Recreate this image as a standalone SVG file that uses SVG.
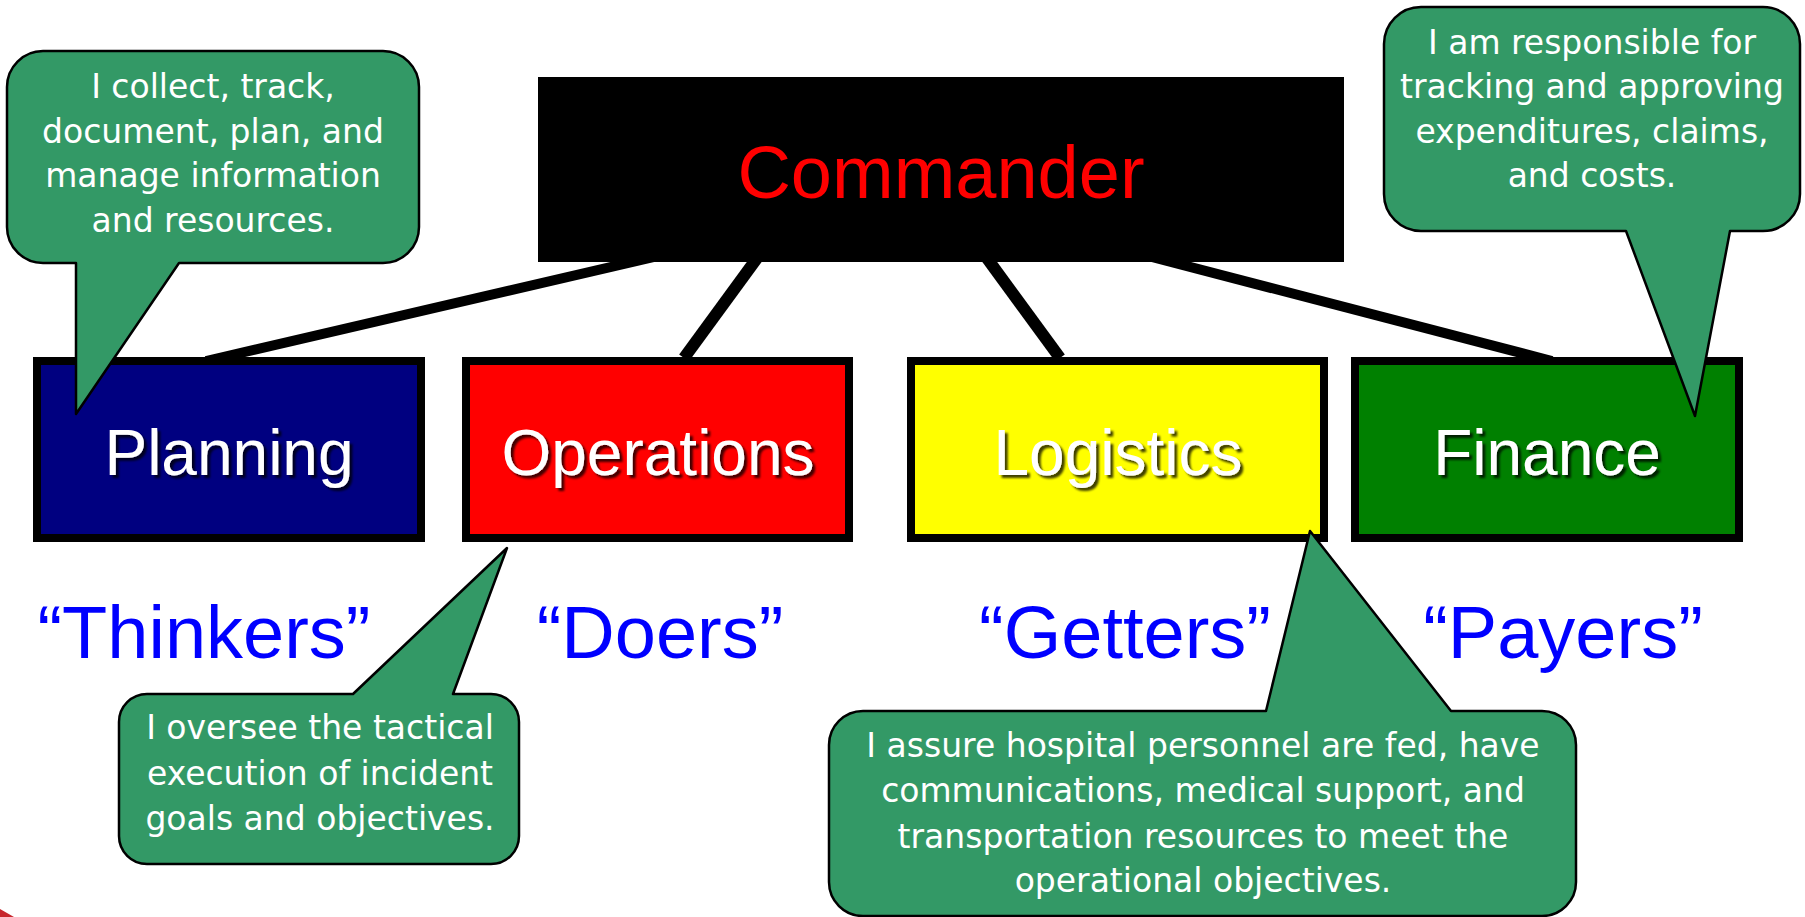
<svg xmlns="http://www.w3.org/2000/svg" width="1805" height="917" viewBox="0 0 1805 917">
  <defs>
    <filter id="shadow" x="-10%" y="-20%" width="130%" height="150%">
      <feDropShadow dx="3" dy="3" stdDeviation="1.2" flood-color="#000000" flood-opacity="0.75"/>
    </filter>
  </defs>
  <style>
    .box { stroke: #000000; stroke-width: 8; }
    .boxlabel { font-family: "Liberation Sans", Arial, sans-serif; font-size: 64px; fill: #FFFFFF; text-anchor: middle; filter: url(#shadow); }
    .quote { font-family: "Liberation Sans", Arial, sans-serif; font-size: 74px; fill: #0000FF; text-anchor: middle; }
    .callout { fill: #339966; stroke: #000000; stroke-width: 2.5; stroke-linejoin: round; }
    .ctext { font-family: "DejaVu Sans", Verdana, sans-serif; font-size: 33px; fill: #FFFFFF; text-anchor: middle; }
    .conn { stroke: #000000; fill: none; stroke-linecap: butt; }
  </style>
  <rect x="0" y="0" width="1805" height="917" fill="#FFFFFF"/>
  <path d="M0,909 L14,917 L0,917 Z" fill="#C8262C"/>

  <g id="connectors">
    <line class="conn" x1="680" y1="251" x2="206" y2="361" stroke-width="10"/>
    <line class="conn" x1="763" y1="250" x2="684" y2="358" stroke-width="12"/>
    <line class="conn" x1="981" y1="250" x2="1060" y2="358" stroke-width="12"/>
    <line class="conn" x1="1125" y1="250" x2="1552" y2="361" stroke-width="10"/>
  </g>

  <g id="commander">
    <rect x="538" y="77" width="806" height="185" fill="#000000"/>
    <text x="941" y="198" font-family="Liberation Sans, Arial, sans-serif" font-size="74" fill="#FF0000" text-anchor="middle">Commander</text>
  </g>

  <g id="planning">
    <rect class="box" x="37" y="361" width="384" height="177" fill="#000080"/>
    <text class="boxlabel" x="229" y="475">Planning</text>
  </g>
  <g id="operations">
    <rect class="box" x="466" y="361" width="383" height="177" fill="#FF0000"/>
    <text class="boxlabel" x="658" y="475">Operations</text>
  </g>
  <g id="logistics">
    <rect class="box" x="911" y="361" width="413" height="177" fill="#FFFF00"/>
    <text class="boxlabel" x="1118" y="475">Logistics</text>
  </g>
  <g id="finance">
    <rect class="box" x="1355" y="361" width="384" height="177" fill="#008000"/>
    <text class="boxlabel" x="1547" y="475">Finance</text>
  </g>

  <g id="quote-thinkers"><text class="quote" x="204" y="658">“Thinkers”</text></g>
  <g id="quote-doers"><text class="quote" x="660" y="658">“Doers”</text></g>
  <g id="quote-getters"><text class="quote" x="1125" y="658">“Getters”</text></g>
  <g id="quote-payers"><text class="quote" x="1563" y="658">“Payers”</text></g>

  <g id="callout-planning">
    <path class="callout" d="M43,51 H383 A36,36 0 0 1 419,87 V227 A36,36 0 0 1 383,263 H179 L76,414 L76,263 H43 A36,36 0 0 1 7,227 V87 A36,36 0 0 1 43,51 Z"/>
    <text class="ctext" x="213" y="98">I collect, track,</text>
    <text class="ctext" x="213" y="143">document, plan, and</text>
    <text class="ctext" x="213" y="187">manage information</text>
    <text class="ctext" x="213" y="232">and resources.</text>
  </g>

  <g id="callout-finance">
    <path class="callout" d="M1421,7 H1763 A37,37 0 0 1 1800,44 V194 A37,37 0 0 1 1763,231 H1730 L1695,416 L1626,231 H1421 A37,37 0 0 1 1384,194 V44 A37,37 0 0 1 1421,7 Z"/>
    <text class="ctext" x="1592" y="54">I am responsible for</text>
    <text class="ctext" x="1592" y="98">tracking and approving</text>
    <text class="ctext" x="1592" y="143">expenditures, claims,</text>
    <text class="ctext" x="1592" y="187">and costs.</text>
  </g>

  <g id="callout-operations">
    <path class="callout" d="M147,694 H353 L507,548 L453,694 H491 A28,28 0 0 1 519,722 V836 A28,28 0 0 1 491,864 H147 A28,28 0 0 1 119,836 V722 A28,28 0 0 1 147,694 Z"/>
    <text class="ctext" x="320" y="739">I oversee the tactical</text>
    <text class="ctext" x="320" y="785">execution of incident</text>
    <text class="ctext" x="320" y="830">goals and objectives.</text>
  </g>

  <g id="callout-logistics">
    <path class="callout" d="M863,711 H1266 L1310,531 L1451,711 H1542 A34,34 0 0 1 1576,745 V882 A34,34 0 0 1 1542,916 H863 A34,34 0 0 1 829,882 V745 A34,34 0 0 1 863,711 Z"/>
    <text class="ctext" x="1203" y="757">I assure hospital personnel are fed, have</text>
    <text class="ctext" x="1203" y="802">communications, medical support, and</text>
    <text class="ctext" x="1203" y="848">transportation resources to meet the</text>
    <text class="ctext" x="1203" y="892">operational objectives.</text>
  </g>
</svg>
